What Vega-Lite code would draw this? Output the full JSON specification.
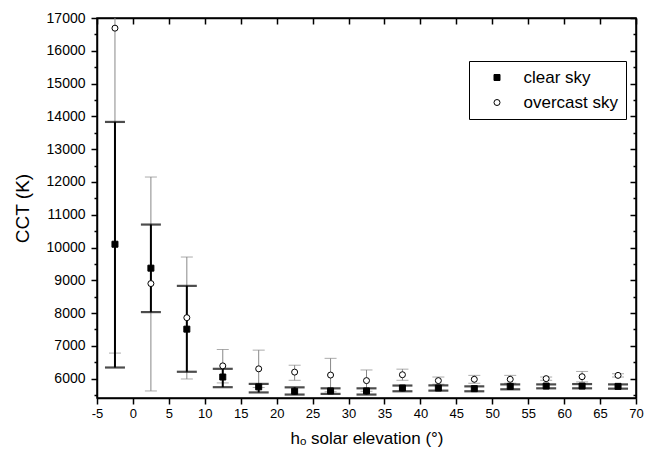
{
  "$schema": "https://vega.github.io/schema/vega-lite/v6.json",
  "width": 539,
  "height": 380,
  "autosize": "none",
  "padding": {"left": 97, "top": 18, "right": 9, "bottom": 63},
  "background": "white",
  "config": {
    "font": "Liberation Sans",
    "view": {"stroke": "black", "strokeWidth": 1.5},
    "axis": {"grid": false, "domainColor": "black", "domainWidth": 1.5, "tickColor": "black", "tickWidth": 1.5, "labelColor": "black", "titleColor": "black", "labelFont": "Liberation Sans", "titleFont": "Liberation Sans", "titleFontWeight": "normal"},
    "legend": {"title": null, "orient": "none", "legendX": 372, "legendY": 43, "strokeColor": "black", "fillColor": "white", "padding": 8, "symbolOffset": 11.5, "labelOffset": 18, "labelFontSize": 17, "labelFont": "Liberation Sans", "labelColor": "black", "rowPadding": 7, "symbolSize": 36, "symbolStrokeWidth": 1}
  },
  "data": {
    "values": [
      {"x": -2.5, "sky": "clear sky", "mean": 10100, "lo": 6340, "hi": 13830},
      {"x": 2.5, "sky": "clear sky", "mean": 9370, "lo": 8030, "hi": 10700},
      {"x": 7.5, "sky": "clear sky", "mean": 7510, "lo": 6210, "hi": 8830},
      {"x": 12.5, "sky": "clear sky", "mean": 6050, "lo": 5740, "hi": 6300},
      {"x": 17.5, "sky": "clear sky", "mean": 5750, "lo": 5580, "hi": 5840},
      {"x": 22.5, "sky": "clear sky", "mean": 5615, "lo": 5515, "hi": 5735},
      {"x": 27.5, "sky": "clear sky", "mean": 5625, "lo": 5535, "hi": 5705},
      {"x": 32.5, "sky": "clear sky", "mean": 5625, "lo": 5515, "hi": 5705},
      {"x": 37.5, "sky": "clear sky", "mean": 5715, "lo": 5615, "hi": 5790},
      {"x": 42.5, "sky": "clear sky", "mean": 5715, "lo": 5635, "hi": 5795},
      {"x": 47.5, "sky": "clear sky", "mean": 5695, "lo": 5615, "hi": 5765},
      {"x": 52.5, "sky": "clear sky", "mean": 5765, "lo": 5675, "hi": 5825},
      {"x": 57.5, "sky": "clear sky", "mean": 5775, "lo": 5705, "hi": 5825},
      {"x": 62.5, "sky": "clear sky", "mean": 5775, "lo": 5705, "hi": 5835},
      {"x": 67.5, "sky": "clear sky", "mean": 5765, "lo": 5695, "hi": 5825},
      {"x": -2.5, "sky": "overcast sky", "mean": 16690, "lo": 6780, "hi": 26600},
      {"x": 2.5, "sky": "overcast sky", "mean": 8900, "lo": 5625, "hi": 12150},
      {"x": 7.5, "sky": "overcast sky", "mean": 7860, "lo": 5990, "hi": 9710},
      {"x": 12.5, "sky": "overcast sky", "mean": 6390, "lo": 5870, "hi": 6890},
      {"x": 17.5, "sky": "overcast sky", "mean": 6300, "lo": 5730, "hi": 6870},
      {"x": 22.5, "sky": "overcast sky", "mean": 6200, "lo": 5950, "hi": 6410},
      {"x": 27.5, "sky": "overcast sky", "mean": 6110, "lo": 5600, "hi": 6620},
      {"x": 32.5, "sky": "overcast sky", "mean": 5940, "lo": 5615, "hi": 6265},
      {"x": 37.5, "sky": "overcast sky", "mean": 6120, "lo": 5950, "hi": 6290},
      {"x": 42.5, "sky": "overcast sky", "mean": 5940, "lo": 5830, "hi": 6050},
      {"x": 47.5, "sky": "overcast sky", "mean": 5980, "lo": 5860, "hi": 6100},
      {"x": 52.5, "sky": "overcast sky", "mean": 5980, "lo": 5860, "hi": 6100},
      {"x": 57.5, "sky": "overcast sky", "mean": 6000, "lo": 5950, "hi": 6050},
      {"x": 62.5, "sky": "overcast sky", "mean": 6060, "lo": 5900, "hi": 6220},
      {"x": 67.5, "sky": "overcast sky", "mean": 6100, "lo": 6050, "hi": 6150}
    ]
  },
  "layer": [
    {
      "transform": [{"filter": "datum.sky === 'overcast sky'"}],
      "mark": {"type": "rule", "color": "#888888", "strokeWidth": 1, "clip": true},
      "encoding": {
        "x": {"field": "x", "type": "quantitative", "scale": {"domain": [-5, 70], "nice": false, "zero": false},
          "axis": {"orient": "bottom", "values": [-5, 0, 5, 10, 15, 20, 25, 30, 35, 40, 45, 50, 55, 60, 65, 70], "tickSize": 6, "labelFontSize": 13, "labelPadding": 3, "labelExpr": "replace(datum.label, '−', '-')", "title": "hₒ solar elevation (°)", "titleFontSize": 17, "titlePadding": 10, "labelFlush": false}},
        "y": {"field": "lo", "type": "quantitative", "scale": {"domain": [5410, 17000], "nice": false, "zero": false},
          "axis": {"orient": "left", "values": [5500, 6000, 6500, 7000, 7500, 8000, 8500, 9000, 9500, 10000, 10500, 11000, 11500, 12000, 12500, 13000, 13500, 14000, 14500, 15000, 15500, 16000, 16500, 17000],
            "tickSize": {"condition": {"test": "datum.value % 1000 === 0", "value": 6}, "value": 3},
            "labelExpr": "datum.value % 1000 === 0 ? format(datum.value, 'd') : ''",
            "labelFontSize": 14, "labelPadding": 6, "labelFlush": false, "title": "CCT (K)", "titleFontSize": 19, "titlePadding": 14}},
        "y2": {"field": "hi"}
      }
    },
    {
      "transform": [{"filter": "datum.sky === 'overcast sky'"}],
      "mark": {"type": "tick", "orient": "horizontal", "size": 12, "thickness": 1, "color": "#888888", "clip": true},
      "encoding": {
        "x": {"field": "x", "type": "quantitative", "scale": {"domain": [-5, 70], "nice": false, "zero": false},
          "axis": {"orient": "top", "values": [-5, 0, 5, 10, 15, 20, 25, 30, 35, 40, 45, 50, 55, 60, 65, 70], "tickSize": -6, "labels": false, "title": null}},
        "y": {"field": "lo", "type": "quantitative", "scale": {"domain": [5410, 17000], "nice": false, "zero": false},
          "axis": {"orient": "right", "values": [5500, 6000, 6500, 7000, 7500, 8000, 8500, 9000, 9500, 10000, 10500, 11000, 11500, 12000, 12500, 13000, 13500, 14000, 14500, 15000, 15500, 16000, 16500, 17000],
            "tickSize": {"condition": {"test": "datum.value % 1000 === 0", "value": -6}, "value": -3}, "labels": false, "title": null}}
      }
    },
    {
      "transform": [{"filter": "datum.sky === 'overcast sky'"}],
      "mark": {"type": "tick", "orient": "horizontal", "size": 12, "thickness": 1, "color": "#888888", "clip": true},
      "encoding": {
        "x": {"field": "x", "type": "quantitative", "axis": null},
        "y": {"field": "hi", "type": "quantitative", "axis": null}
      }
    },
    {
      "transform": [{"filter": "datum.sky === 'clear sky'"}],
      "mark": {"type": "rule", "color": "black", "strokeWidth": 2},
      "encoding": {
        "x": {"field": "x", "type": "quantitative", "axis": null},
        "y": {"field": "lo", "type": "quantitative", "axis": null},
        "y2": {"field": "hi"}
      }
    },
    {
      "transform": [{"filter": "datum.sky === 'clear sky'"}],
      "mark": {"type": "tick", "orient": "horizontal", "size": 20, "thickness": 2.2, "color": "black"},
      "encoding": {
        "x": {"field": "x", "type": "quantitative", "axis": null},
        "y": {"field": "lo", "type": "quantitative", "axis": null}
      }
    },
    {
      "transform": [{"filter": "datum.sky === 'clear sky'"}],
      "mark": {"type": "tick", "orient": "horizontal", "size": 20, "thickness": 2.2, "color": "black"},
      "encoding": {
        "x": {"field": "x", "type": "quantitative", "axis": null},
        "y": {"field": "hi", "type": "quantitative", "axis": null}
      }
    },
    {
      "mark": {"type": "point", "filled": true, "size": 36, "strokeWidth": 1, "opacity": 1, "clip": true},
      "encoding": {
        "x": {"field": "x", "type": "quantitative", "axis": null},
        "y": {"field": "mean", "type": "quantitative", "axis": null},
        "shape": {"field": "sky", "type": "nominal", "scale": {"domain": ["clear sky", "overcast sky"], "range": ["square", "circle"]}},
        "fill": {"field": "sky", "type": "nominal", "scale": {"domain": ["clear sky", "overcast sky"], "range": ["black", "white"]}},
        "stroke": {"field": "sky", "type": "nominal", "scale": {"domain": ["clear sky", "overcast sky"], "range": ["black", "black"]}}
      }
    }
  ],
  "resolve": {"axis": {"x": "independent", "y": "independent"}}
}
